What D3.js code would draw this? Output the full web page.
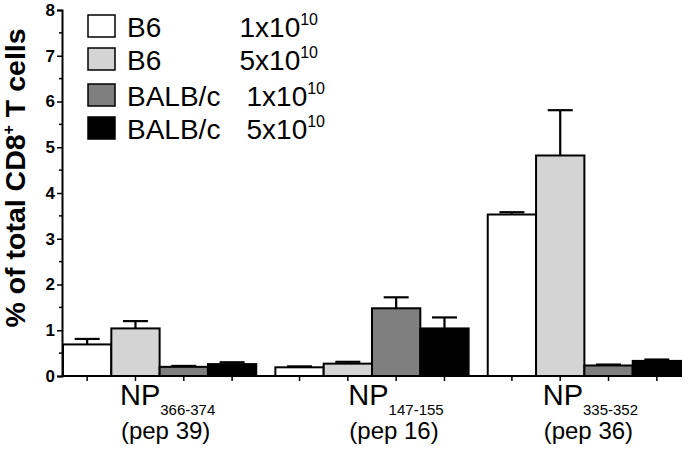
<!DOCTYPE html>
<html>
<head>
<meta charset="utf-8">
<script src="https://cdn.jsdelivr.net/npm/d3@7"></script>
<style>
  html, body { margin: 0; padding: 0; background: #fff; }
  svg { display: block; font-family: Arial, "Liberation Sans", sans-serif; }
</style>
</head>
<body>
<svg id="chart" width="688" height="450"></svg>
<script>
// ---- data ----
const groups = ["NP366-374", "NP147-155", "NP335-352"];
const groupMain = ["NP", "NP", "NP"];
const groupSub = ["366-374", "147-155", "335-352"];
const groupPep = ["(pep 39)", "(pep 16)", "(pep 36)"];
const seriesStrain = ["B6", "B6", "BALB/c", "BALB/c"];
const seriesDose = ["1x10", "5x10", "1x10", "5x10"];
const seriesDoseExp = ["10", "10", "10", "10"];
const seriesColors = ["#ffffff", "#d4d4d4", "#7f7f7f", "#000000"];
// mean values per series (rows) x group (cols)
const b6Low   = [0.69, 0.19, 3.53];
const b6High  = [1.04, 0.27, 4.82];
const balbLow = [0.20, 1.48, 0.23];
const balbHigh= [0.26, 1.04, 0.33];
// upper error (SEM) per series x group
const b6LowErr   = [0.12, 0.02, 0.05];
const b6HighErr  = [0.16, 0.04, 0.99];
const balbLowErr = [0.02, 0.24, 0.02];
const balbHighErr= [0.04, 0.24, 0.03];
const yTicks = [0, 1, 2, 3, 4, 5, 6, 7, 8];

const values = [b6Low, b6High, balbLow, balbHigh];
const errors = [b6LowErr, b6HighErr, balbLowErr, balbHighErr];

// ---- layout ----
const svg = d3.select("#chart");
const x0 = 62, x1 = 681, yBase = 376, yTop = 10;

const xGroup = d3.scaleBand().domain(groups).range([x0 + 1, x1]).paddingInner(0.09).paddingOuter(0);
const xBar = d3.scaleBand().domain(d3.range(4)).range([0, xGroup.bandwidth()]).padding(0);
const y = d3.scaleLinear().domain([0, 8]).range([yBase, yTop]);

const bars = [];
groups.forEach((g, gi) => {
  values.forEach((s, si) => {
    bars.push({g, gi, si, v: s[gi], e: errors[si][gi]});
  });
});

// error bars (drawn first so bar outline covers the stem base)
const capW = 25;
const eg = svg.append("g").attr("stroke", "#000").attr("stroke-width", 2.2);
bars.forEach(b => {
  const cx = xGroup(b.g) + xBar(b.si) + xBar.bandwidth() / 2;
  eg.append("line").attr("x1", cx).attr("x2", cx).attr("y1", y(b.v)).attr("y2", y(b.v + b.e));
  eg.append("line").attr("x1", cx - capW / 2).attr("x2", cx + capW / 2).attr("y1", y(b.v + b.e)).attr("y2", y(b.v + b.e));
});

svg.append("g").selectAll("rect").data(bars).join("rect")
  .attr("x", d => xGroup(d.g) + xBar(d.si))
  .attr("y", d => y(d.v))
  .attr("width", xBar.bandwidth())
  .attr("height", d => yBase - y(d.v))
  .attr("fill", d => seriesColors[d.si])
  .attr("stroke", "#000")
  .attr("stroke-width", 2);

// y axis
const yAxis = d3.axisLeft(y).tickValues(yTicks).tickFormat(d3.format("d")).tickSize(5).tickPadding(2);
const ya = svg.append("g").attr("transform", `translate(${x0},0)`).call(yAxis);
ya.select(".domain").attr("stroke-width", 2);
ya.selectAll(".tick line").attr("stroke-width", 1.5);
ya.selectAll(".tick text").attr("font-size", 17).attr("font-weight", "bold").attr("fill", "#000")
  .attr("font-family", "Arial, 'Liberation Sans', sans-serif");
// minor ticks
const minor = d3.range(0.5, 8, 1);
ya.selectAll(".minor").data(minor).join("line").attr("class", "minor")
  .attr("x1", -3).attr("x2", 0).attr("y1", d => y(d)).attr("y2", d => y(d))
  .attr("stroke", "#000").attr("stroke-width", 1.5);

// x axis line
svg.append("line").attr("x1", x0).attr("x2", x1).attr("y1", yBase).attr("y2", yBase)
  .attr("stroke", "#000").attr("stroke-width", 2);
// x ticks at bar centers
bars.forEach(b => {
  const cx = xGroup(b.g) + xBar(b.si) + xBar.bandwidth() / 2;
  svg.append("line").attr("x1", cx).attr("x2", cx).attr("y1", yBase).attr("y2", yBase + 5)
    .attr("stroke", "#000").attr("stroke-width", 1.5);
});

// group labels
const labelShift = [8, 24, 6];
groups.forEach((g, gi) => {
  const cx = xGroup(g) + xGroup.bandwidth() / 2 + labelShift[gi];
  const t = svg.append("text").attr("x", cx).attr("y", 405).attr("text-anchor", "middle").attr("fill", "#000");
  t.append("tspan").attr("font-size", 29).text(groupMain[gi]);
  t.append("tspan").attr("font-size", 15).attr("dy", 10).text(groupSub[gi]);
  svg.append("text").attr("x", cx - 2).attr("y", 439).attr("text-anchor", "middle")
    .attr("font-size", 24).attr("fill", "#000").text(groupPep[gi]);
});

// y label
svg.append("text")
  .attr("transform", `translate(25,${178}) rotate(-90)`)
  .attr("text-anchor", "middle").attr("font-size", 28.5).attr("font-weight", "bold").attr("fill", "#000")
  .call(t => {
    t.append("tspan").text("% of total CD8");
    t.append("tspan").attr("font-size", 16).attr("dy", -11).text("+");
    t.append("tspan").attr("dy", 11).text(" T cells");
  });

// legend
const legRowY = [15, 48, 84, 117];
seriesStrain.forEach((s, i) => {
  const gy = legRowY[i];
  svg.append("rect").attr("x", 88).attr("y", gy).attr("width", 27).attr("height", 22)
    .attr("fill", seriesColors[i]).attr("stroke", "#000").attr("stroke-width", 1.5);
  svg.append("text").attr("x", 127).attr("y", gy + 22).attr("font-size", 28).attr("fill", "#000").text(s);
  const endX = s === "BALB/c" ? 325 : 318;
  const dt = svg.append("text").attr("x", endX).attr("y", gy + 22).attr("text-anchor", "end")
    .attr("font-size", 28).attr("fill", "#000");
  dt.append("tspan").text(seriesDose[i]);
  dt.append("tspan").attr("font-size", 16).attr("dy", -12).text(seriesDoseExp[i]);
});
</script>
</body>
</html>
